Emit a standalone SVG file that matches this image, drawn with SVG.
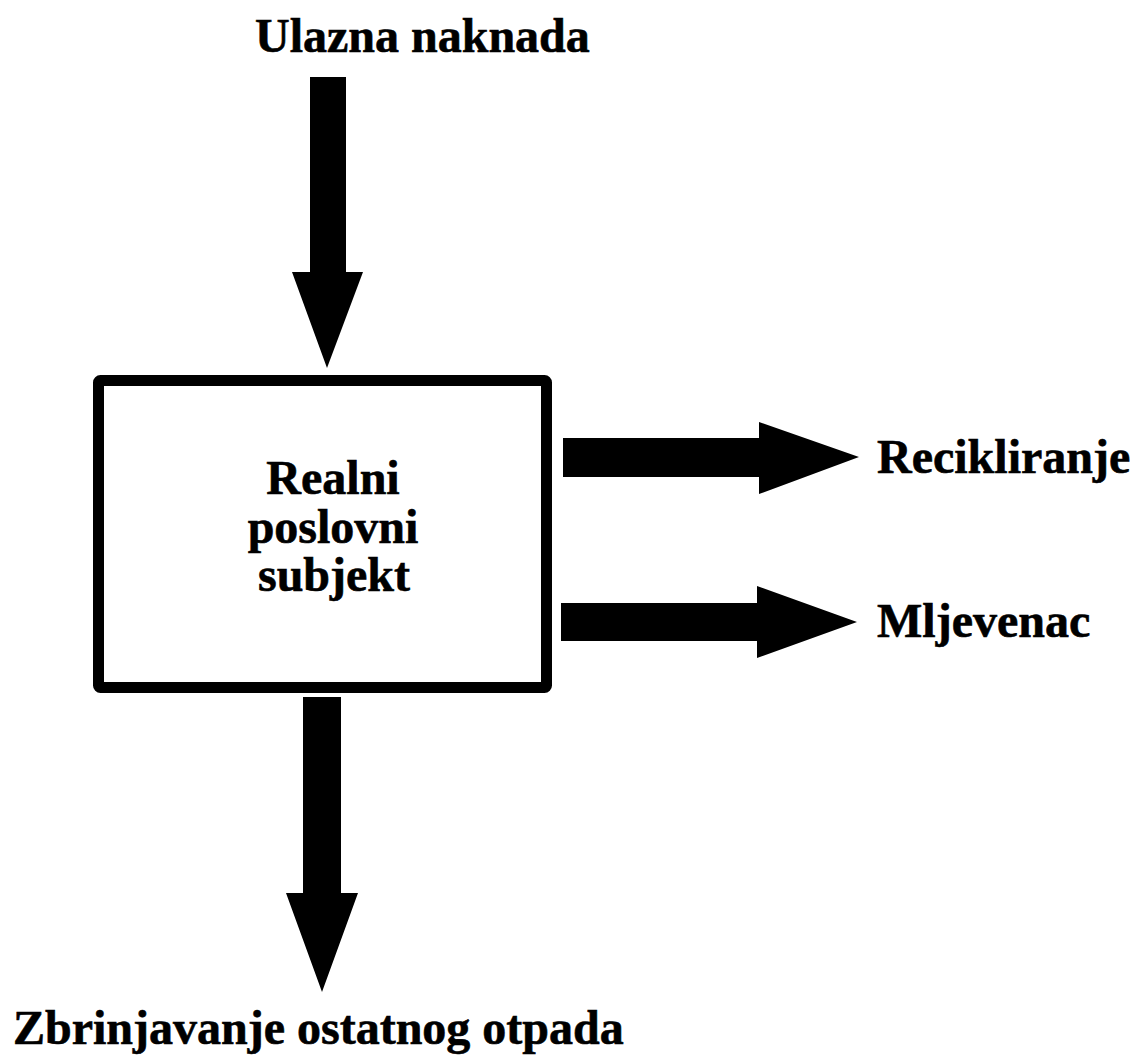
<svg xmlns="http://www.w3.org/2000/svg" width="1137" height="1055" viewBox="0 0 1137 1055">
<style>
.t{font-family:"Liberation Serif","Times New Roman",serif;font-weight:bold;font-size:48px;fill:#000;stroke:#000;stroke-width:0.6}
.c{text-anchor:middle}
.a{fill:#000}
</style>
<rect width="1137" height="1055" fill="#fff"/>
<g id="connectors">
<polygon class="a" points="310,77 346,77 346,272 363,272 327,368 292,272 310,272"/>
<polygon class="a" points="563,438 759,438 759,422 859,457 759,494 759,477 563,477"/>
<polygon class="a" points="561,603 757,603 757,586 857,622 757,658 757,641 561,641"/>
<polygon class="a" points="303,697 341,697 341,893 358,893 322,992 286,893 303,893"/>
</g>
<g id="node-box">
<rect x="98.5" y="380.5" width="448" height="307" rx="2" fill="#fff" stroke="#000" stroke-width="11"/>
<text class="t c"><tspan x="333" y="494">Realni</tspan><tspan x="333" y="543">poslovni</tspan><tspan x="334" y="591">subjekt</tspan></text>
</g>
<g id="label-ulazna">
<text class="t" x="255" y="52">Ulazna naknada</text>
</g>
<g id="label-recikliranje">
<text class="t" x="877" y="473">Recikliranje</text>
</g>
<g id="label-mljevenac">
<text class="t" x="877" y="637">Mljevenac</text>
</g>
<g id="label-zbrinjavanje">
<text class="t" x="13" y="1044">Zbrinjavanje ostatnog otpada</text>
</g>
</svg>
